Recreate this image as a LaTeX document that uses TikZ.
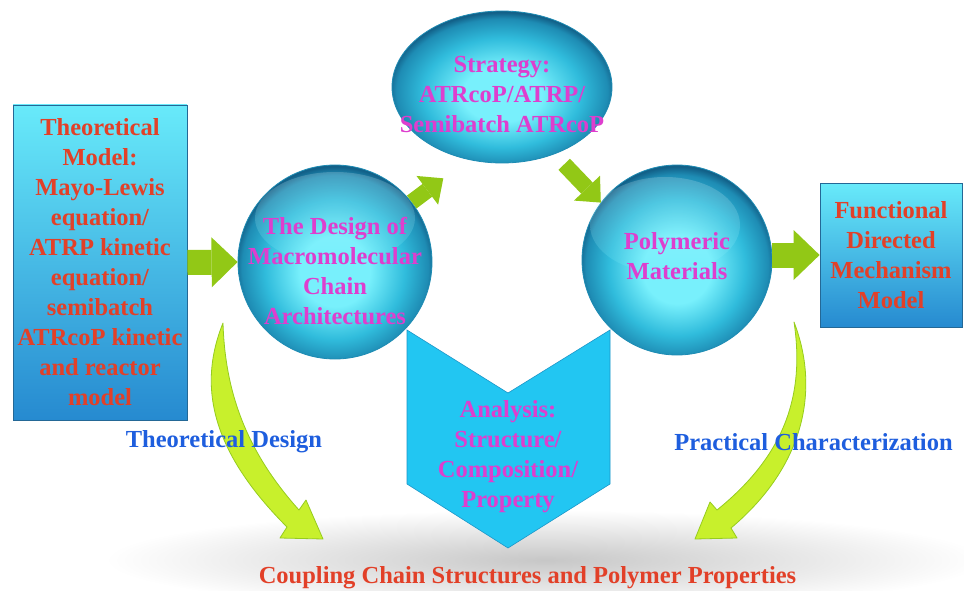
\documentclass[tikz,border=0pt]{standalone}
\usepackage{fontspec}
\setmainfont{Liberation Serif}
\usetikzlibrary{arrows.meta,shapes.geometric}

\definecolor{txtred}{RGB}{226,64,40}
\definecolor{txtmag}{RGB}{222,62,206}
\definecolor{txtblue}{RGB}{30,94,222}
\definecolor{boxtop}{RGB}{104,234,250}
\definecolor{boxbot}{RGB}{38,138,208}
\definecolor{boxline}{RGB}{36,104,150}
\definecolor{chevfill}{RGB}{34,198,242}
\definecolor{chevline}{RGB}{28,150,200}
\definecolor{arrgreen}{RGB}{146,200,22}
\definecolor{curvefill}{RGB}{200,240,44}
\definecolor{curveline}{RGB}{150,204,30}
\definecolor{sphC}{RGB}{120,240,252}
\definecolor{sphM}{RGB}{48,188,220}
\definecolor{sphE}{RGB}{30,140,180}
\definecolor{sphR}{RGB}{18,96,136}

% glossy sphere: bright core, teal body, dark rim
\pgfdeclareradialshading{glossball}{\pgfpoint{0bp}{-3bp}}{%
  color(0bp)=(sphC); color(9bp)=(sphC); color(18bp)=(sphM);
  color(24bp)=(sphE); color(26bp)=(sphR); color(50bp)=(sphR)}

\tikzset{
  lbl/.style={font=\fontsize{24.5}{30}\selectfont\bfseries, align=center, inner sep=0pt},
  modelbox/.style={rectangle, draw=boxline, line width=0.8pt, top color=boxtop,
    bottom color=boxbot, lbl, text=txtred},
  sphere/.style={circle, draw=sphE, line width=0.8pt, shade, shading=glossball, inner sep=0pt},
  gloss/.style={top color=white, bottom color=sphC, opacity=0.18},
  magtext/.style={lbl, text=txtmag},
  fatarrow/.style={draw=arrgreen, line width=25pt,
    -{Triangle[length=26pt, width=50pt, line width=0pt]}},
  slimarrow/.style={draw=arrgreen, line width=16pt,
    -{Triangle[length=20pt, width=36pt, line width=0pt]}},
  bentarrow/.style={fill=curvefill, draw=curveline, line width=0.8pt, line join=round},
}

\begin{document}
\begin{tikzpicture}[x=1pt, y=-1pt]
  \useasboundingbox (0,0) rectangle (964,591);
  \fill[white] (0,0) rectangle (964,591);

  % soft floor shadow under the bottom caption
  \shade[inner color=black!22, outer color=white] (545,560) ellipse (440pt and 50pt);

  % analysis chevron
  \fill[chevfill, draw=chevline, line width=0.6pt]
    (407,330) -- (508,393) -- (610,330) -- (610,484) -- (508,548) -- (407,484) -- cycle;

  % bent arrows down to the caption
  \path[bentarrow] (223,323) .. controls (198,385) and (210,450) .. (287,527)
    -- (280,538) -- (323,539) -- (306,500) -- (299,510)
    .. controls (245,450) and (225,390) .. (223,323) -- cycle;
  \path[bentarrow] (794,322) .. controls (822,395) and (800,470) .. (731,528)
    -- (737,538) -- (695,539) -- (710,502) -- (717,510)
    .. controls (785,455) and (805,395) .. (794,322) -- cycle;

  % model boxes
  \node[modelbox, minimum width=174pt, minimum height=315pt] (theory) at (100,262.5)
    {Theoretical\\Model:\\Mayo-Lewis\\equation/\\ATRP kinetic\\equation/\\semibatch\\ATRcoP kinetic\\and reactor\\model};
  \node[modelbox, minimum width=142pt, minimum height=144pt] (mechanism) at (891,255)
    {Functional\\Directed\\Mechanism\\Model};

  % spheres
  \node[sphere, minimum size=194pt] (design) at (335,262) {};
  \node[sphere, ellipse, minimum width=220pt, minimum height=152pt] (strategy) at (502,87) {};
  \node[sphere, minimum size=190pt] (materials) at (677,260) {};

  % glossy caps
  \shade[gloss] ([yshift=44pt]design.center) ellipse (80pt and 46pt);
  \shade[gloss] ([xshift=-12pt,yshift=35pt]materials.center) ellipse (75pt and 48pt);

  % sphere captions
  \node[magtext] (designtxt) at ([yshift=-9pt]design.center)
    {The Design of\\Macromolecular\\Chain\\Architectures};
  \node[magtext] (strategytxt) at ([yshift=-8pt]strategy.center)
    {Strategy:\\ATRcoP/ATRP/\\Semibatch ATRcoP};
  \node[magtext] (materialstxt) at ([yshift=4pt]materials.center)
    {Polymeric\\Materials};
  \node[magtext] (analysis) at (508,456.5)
    {Analysis:\\Structure/\\Composition/\\Property};

  % straight flow arrows
  \draw[fatarrow] (theory.east) -- (design.west);
  \draw[slimarrow, shorten >=31pt] (design.38) -- (strategy.-115);
  \draw[slimarrow, shorten <=14pt] (strategy.-52) -- (materials.143);
  \draw[fatarrow] (materials.east |- mechanism.west) -- (mechanism.west);

  % side labels and caption
  \node[lbl, text=txtblue] (tdesign) at (224,442) {Theoretical Design};
  \node[lbl, text=txtblue] (pchar) at (813.5,442) {Practical Characterization};
  \node[lbl, text=txtred] (coupling) at (527.5,578)
    {Coupling Chain Structures and Polymer Properties};
\end{tikzpicture}
\end{document}
